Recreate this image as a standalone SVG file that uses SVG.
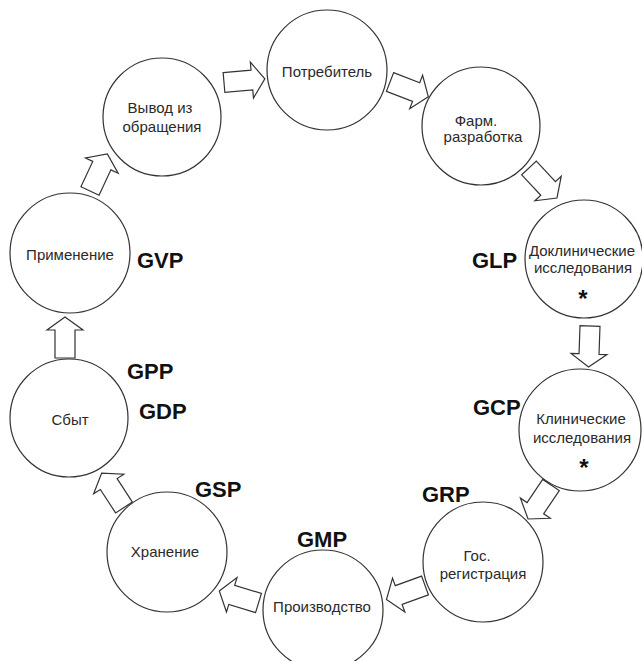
<svg xmlns="http://www.w3.org/2000/svg" xmlns:xlink="http://www.w3.org/1999/xlink" width="642" height="661" viewBox="0 0 642 661">
<style>
.node circle{fill:#fff;stroke:#333;stroke-width:1.2}
.node text{font-family:"Liberation Sans",Arial,sans-serif;font-size:15px;fill:#2a2a2a;text-anchor:middle}
.node text.star{font-size:24px;font-weight:bold;fill:#111}
.lbl{font-family:"Liberation Sans",Arial,sans-serif;font-size:22px;font-weight:bold;fill:#111}
.arr{fill:#fff;stroke:#333;stroke-width:1.2;stroke-linejoin:miter}
</style>
<defs>
<path id="barrow" d="M0,-10 H28 V-18 L41,0 L28,18 V10 H0 Z"/>
</defs>
<rect width="642" height="661" fill="#fff"/>
<g id="connectors">
<use xlink:href="#barrow" class="arr" transform="translate(224,82.5) rotate(-5)"/>
<use xlink:href="#barrow" class="arr" transform="translate(390,82) rotate(21)"/>
<use xlink:href="#barrow" class="arr" transform="translate(529,168) rotate(47)"/>
<use xlink:href="#barrow" class="arr" transform="translate(590,326) rotate(92)"/>
<use xlink:href="#barrow" class="arr" transform="translate(551,485) rotate(124)"/>
<use xlink:href="#barrow" class="arr" transform="translate(425,585.5) rotate(160)"/>
<use xlink:href="#barrow" class="arr" transform="translate(258.5,603) rotate(-163)"/>
<use xlink:href="#barrow" class="arr" transform="translate(124,507.5) rotate(-123)"/>
<use xlink:href="#barrow" class="arr" transform="translate(65,358) rotate(-90)"/>
<use xlink:href="#barrow" class="arr" transform="translate(90,191) rotate(-65)"/>
</g>
<g id="n-potrebitel" class="node"><circle cx="327" cy="70" r="60"/><text x="327" y="77">Потребитель</text></g>
<g id="n-farm" class="node"><circle cx="481" cy="126" r="59"/><text x="476" y="126">Фарм.</text><text x="483" y="142">разработка</text></g>
<g id="n-doklin" class="node"><circle cx="584" cy="259" r="59"/><text x="582" y="256">Доклинические</text><text x="583" y="273">исследования</text><text class="star" x="583" y="307">*</text></g>
<g id="n-klin" class="node"><circle cx="580" cy="430" r="61"/><text x="581" y="424">Клинические</text><text x="582" y="443">исследования</text><text class="star" x="584" y="476">*</text></g>
<g id="n-gosreg" class="node"><circle cx="483" cy="562" r="60"/><text x="477" y="561">Гос.</text><text x="483" y="579">регистрация</text></g>
<g id="n-proizv" class="node"><circle cx="323" cy="610" r="60"/><text x="322" y="612">Производство</text></g>
<g id="n-hranenie" class="node"><circle cx="167" cy="552" r="60"/><text x="165" y="557">Хранение</text></g>
<g id="n-sbyt" class="node"><circle cx="69" cy="418" r="59"/><text x="70" y="425">Сбыт</text></g>
<g id="n-primenenie" class="node"><circle cx="70" cy="253" r="60"/><text x="70" y="260">Применение</text></g>
<g id="n-vyvod" class="node"><circle cx="162" cy="117" r="59"/><text x="160" y="113">Вывод из</text><text x="162" y="132">обращения</text></g>
<g id="labels">
<text class="lbl" x="137" y="268">GVP</text>
<text class="lbl" x="127" y="379">GPP</text>
<text class="lbl" x="139" y="419">GDP</text>
<text class="lbl" x="195" y="497">GSP</text>
<text class="lbl" x="297" y="547">GMP</text>
<text class="lbl" x="422" y="502">GRP</text>
<text class="lbl" x="473" y="415">GCP</text>
<text class="lbl" x="472" y="268">GLP</text>
</g>
</svg>
